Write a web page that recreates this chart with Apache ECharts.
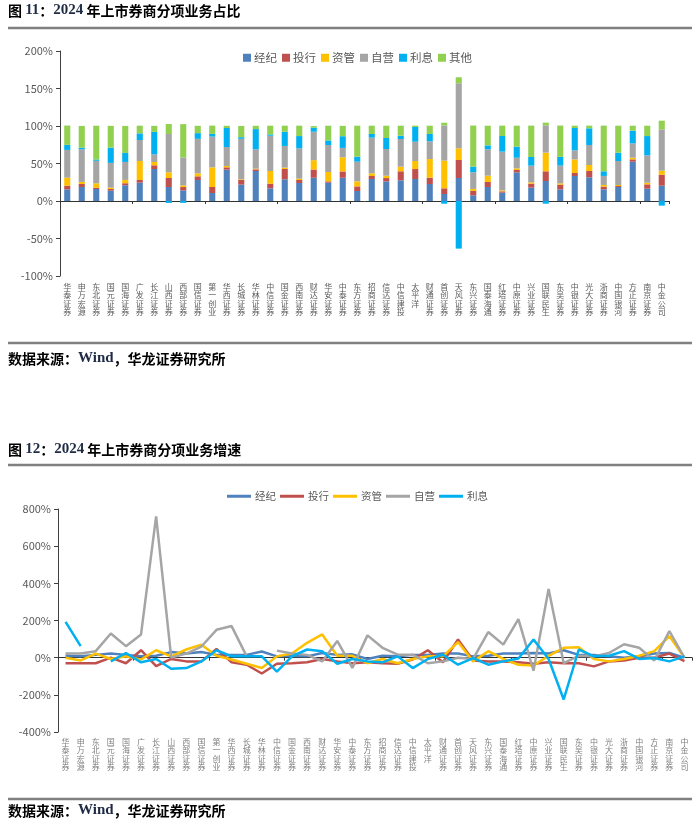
<!DOCTYPE html>
<html><head><meta charset="utf-8">
<script src="https://cdn.jsdelivr.net/npm/echarts@6/dist/echarts.min.js"></script>
<style>html,body{margin:0;padding:0;background:#fff}#c{width:700px;height:832px}</style>
</head><body><div id="c"></div>
<script>
const categories = ['华泰证券','申万宏源','东北证券','国元证券','国海证券','广发证券','长江证券','山西证券','西部证券','国信证券','第一创业','华西证券','长城证券','华林证券','中信证券','国金证券','西南证券','财达证券','华安证券','中泰证券','东方证券','招商证券','信达证券','中信建投','太平洋','财通证券','首创证券','天风证券','东兴证券','国泰海通','红塔证券','中原证券','兴业证券','国联民生','东吴证券','中银证券','光大证券','浙商证券','中国银河','方正证券','南京证券','中金公司'];
const seriesNames = ['经纪','投行','资管','自营','利息','其他'];
const colors = ['#4F81BD','#C0504D','#FFC000','#A5A5A5','#00B0F0','#92D050'];

// Chart 1: share of each business (%)
const shareBrokerage = [15.5,18.7,16,13.8,21,24.4,42.7,18.7,14.2,28,10.7,41.8,21.8,40,16.9,28.9,24,31,24.4,31,13.3,29.3,26.2,27.6,29.3,22.7,9.3,30.7,7.6,18.7,11.1,38.2,17.8,26.7,15.6,33.3,31.6,15.6,18.7,52.4,16.4,20.4];
const shareIB = [4.9,4,1.8,2.2,2.7,3.6,4.9,12,4.4,4.9,8,3.1,6.2,2.2,6.2,13.8,4,11,1.8,8.4,6.2,4,4.4,12,13.3,8.4,7.6,24,5.8,6.7,1.8,3.1,5.3,12.9,6.2,4,8.4,3.6,1.3,3.1,5.8,14.7];
const shareAM = [10.7,2.7,5.8,1.8,4.4,25.3,4.4,7.6,2.2,4,26.2,1.8,0.9,0.9,16.9,1.8,1.8,12.4,12.4,19,6.7,3.6,3.1,6.2,10.7,24.9,36.9,15.6,2.7,8.4,1.3,2.2,1.8,24.9,1.8,18.2,8,2.2,1.3,2.2,2.2,5.3];
const shareProp = [37,43.5,30,33,24,28,10.2,51,37.3,46,41,25.3,54,25.8,47,28.9,40.4,38,36,12.4,26.2,47.6,35.6,36.9,25.8,23.6,47,86.7,22.2,35.1,51.6,14.2,22.2,36.4,23.6,12,26.7,12,32,19.1,36.4,55.1];
const shareInterest = [6.7,2.2,1.8,20.4,12,8.9,30,-2.6,-2.5,7.6,3.6,25.3,2.2,27,1.8,19,16.4,5.3,6.2,15.6,6.7,4.9,14.7,4.4,19.6,9.8,-3.6,-63.5,7.6,5.3,20.9,14.7,11.6,-3.6,11.6,29.8,22.2,6.2,11.1,16.9,25.8,-6.2];
const shareOther = [25.8,29,45,29,36,10.2,8,13.3,44.4,9.8,11,3,15,4.4,11.6,8,13.8,2.2,19.6,13.8,41.3,11,16.4,13.3,1.8,11,3.6,8,54.7,26.2,13.8,28,41.8,3.6,41.8,3.1,3.6,60.9,36,6.7,13.8,11.6];

// Chart 2: growth of each business (%)
const growBrokerage = [10,7,15,22,15,7,10,30,22,30,15,15,15,33,7,10,7,25,15,18,-7,10,7,15,15,22,22,7,10,22,22,25,22,40,15,15,7,0,7,22,25,0];
const growIB = [-30,-30,-30,0,-30,40,-45,-7,-20,-20,47,-25,-38,-85,-33,-30,-25,-7,-20,-30,-25,-30,-33,-10,40,-25,98,-15,-20,-20,-25,-33,-25,-30,-30,-47,-20,-15,0,0,22,-18];
const growAM = [0,-15,22,-7,7,-10,40,7,44,70,10,-10,-33,-56,7,22,80,125,10,10,-30,-7,-30,-7,7,7,84,-20,35,-7,-38,-42,10,53,56,-7,-20,-7,10,35,116,0];
const growProp = [22,22,35,130,62,125,760,0,22,60,150,170,7,null,38,22,15,-20,90,-55,120,53,16,16,-30,-20,0,-7,138,70,207,-70,370,-30,10,7,25,72,53,-15,143,0];
const growInterest = [193,62,null,-20,25,-25,-7,-60,-56,-20,40,7,7,7,-75,7,44,35,-33,-7,-20,-25,7,-56,-7,16,-38,-2,-38,-20,-4,98,-7,-225,44,7,10,35,-7,-2,-20,7];

const shareData = [shareBrokerage, shareIB, shareAM, shareProp, shareInterest, shareOther];
const growData = [growBrokerage, growIB, growAM, growProp, growInterest];

const FONT = '"Noto Sans CJK SC", "Noto Sans", sans-serif';
const vert = v => v.split('').join('\n');
const richTitle = {
  k: {fontFamily: FONT, fontWeight: 'bold', fontSize: 14, color: '#000'},
  n: {fontFamily: '"Liberation Serif", serif', fontWeight: 'bold', fontSize: 15, color: '#1F2A44'}
};

function labelAxis(gi, margin, color) {
  return {type: 'category', gridIndex: gi, data: categories, position: 'bottom',
    axisLine: {show: false, onZero: false}, axisTick: {show: false},
    axisLabel: {interval: 0, formatter: vert, fontSize: 8, lineHeight: 8.2, color: color, margin: margin, fontFamily: FONT}};
}
function zeroAxis(gi) {
  return {type: 'category', gridIndex: gi, data: categories, position: 'bottom',
    axisLine: {show: true, onZero: true, lineStyle: {color: '#333', width: 1}},
    axisTick: {show: true, length: 3, lineStyle: {color: '#333'}},
    axisLabel: {show: false}};
}
function yAx(gi, min, max, interval) {
  return {type: 'value', gridIndex: gi, min, max, interval,
    axisLine: {show: true, lineStyle: {color: '#404040'}},
    axisTick: {show: true, length: 4, lineStyle: {color: '#404040'}},
    splitLine: {show: false},
    axisLabel: {formatter: '{value}%', fontSize: 11, color: '#595959', margin: 7, fontFamily: FONT}};
}

const series = [];
seriesNames.forEach((n, i) => {
  series.push({name: n, type: 'bar', stack: 'share', xAxisIndex: 0, yAxisIndex: 0,
    data: shareData[i], barWidth: '42%', itemStyle: {color: colors[i]}, emphasis: {disabled: true}});
});
seriesNames.slice(0, 5).forEach((n, i) => {
  series.push({name: n + ' ', type: 'line', xAxisIndex: 2, yAxisIndex: 1,
    data: growData[i], showSymbol: false, symbol: 'none', connectNulls: false,
    lineStyle: {color: colors[i], width: 2.5}, itemStyle: {color: colors[i]}, emphasis: {disabled: true}});
});

const option = {
  animation: false,
  backgroundColor: '#fff',
  title: [
    {text: '{k|图 }{n|11}{k|：}{n|2024}{k| 年上市券商分项业务占比}', left: 8, top: 3, padding: 0, textStyle: {rich: richTitle}},
    {text: '{k|数据来源：}{n|Wind}{k|，华龙证券研究所}', left: 8, top: 351, padding: 0, textStyle: {rich: richTitle}},
    {text: '{k|图 }{n|12}{k|：}{n|2024}{k| 年上市券商分项业务增速}', left: 8, top: 442, padding: 0, textStyle: {rich: richTitle}},
    {text: '{k|数据来源：}{n|Wind}{k|，华龙证券研究所}', left: 8, top: 803, padding: 0, textStyle: {rich: richTitle}}
  ],
  graphic: [
    {type: 'line', shape: {x1: 8, y1: 28, x2: 692, y2: 28}, style: {stroke: '#808080', lineWidth: 2.5}},
    {type: 'line', shape: {x1: 8, y1: 343, x2: 692, y2: 343}, style: {stroke: '#808080', lineWidth: 2.5}},
    {type: 'line', shape: {x1: 8, y1: 465, x2: 692, y2: 465}, style: {stroke: '#808080', lineWidth: 2.5}},
    {type: 'line', shape: {x1: 8, y1: 799, x2: 692, y2: 799}, style: {stroke: '#808080', lineWidth: 2.5}}
  ],
  legend: [
    {data: seriesNames, left: 238, top: 47, icon: 'rect', itemWidth: 8, itemHeight: 8, itemGap: 5,
      textStyle: {fontSize: 11.5, color: '#595959', fontFamily: FONT, padding: [0, 0, 0, -2]}},
    {data: seriesNames.slice(0, 5).map(n => n + ' '), left: 222, top: 486, icon: 'rect', itemWidth: 24, itemHeight: 3, itemGap: 4,
      textStyle: {fontSize: 10.5, color: '#595959', fontFamily: FONT, padding: [0, 0, 0, -1]},
      formatter: n => n.trim()}
  ],
  grid: [
    {left: 60, top: 51, width: 609, height: 225},
    {left: 58, top: 509, width: 634, height: 223}
  ],
  xAxis: [zeroAxis(0), labelAxis(0, 7, '#595959'), zeroAxis(1), labelAxis(1, 6, '#7f7f7f')],
  yAxis: [yAx(0, -100, 200, 50), yAx(1, -400, 800, 200)],
  series
};
const chart = echarts.init(document.getElementById('c'));
chart.setOption(option);
</script>
</body></html>
